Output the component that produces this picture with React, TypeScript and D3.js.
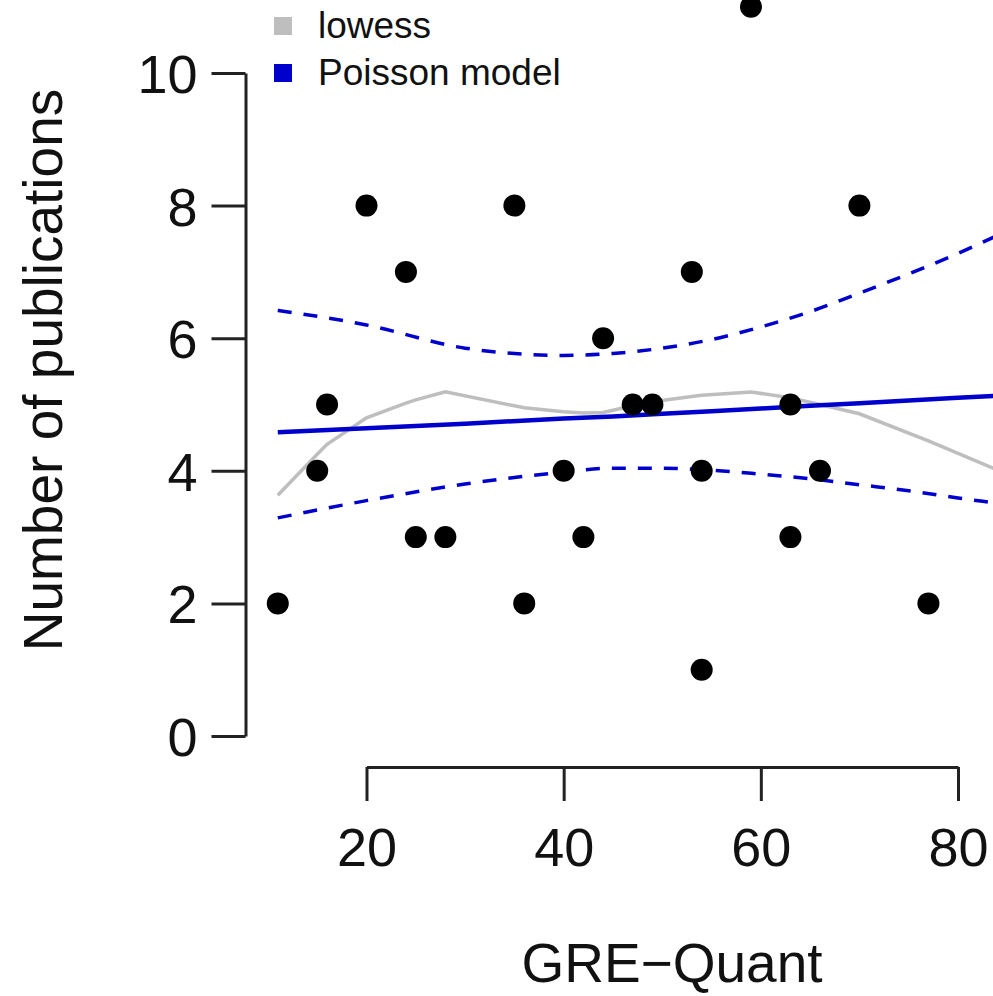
import { useRef, useEffect } from 'react';
import * as d3 from 'd3';

// observed data: GRE-Quant vs number of publications
const greQuant = [11, 15, 16, 20, 24, 25, 28, 35, 36, 40, 42, 44, 47, 49, 53, 54, 54, 59, 63, 63, 66, 70, 77];
const pubs = [2, 4, 5, 8, 7, 3, 3, 8, 2, 4, 3, 6, 5, 5, 7, 4, 1, 11, 5, 3, 4, 8, 2];

// lowess smooth (evaluated at the unique x values)
const lowessX = [11, 15, 16, 20, 24, 25, 28, 35, 36, 40, 42, 44, 47, 49, 53, 54, 59, 63, 66, 70, 77, 85];
const lowessY = [3.63, 4.25, 4.4, 4.8, 5.02, 5.07, 5.19, 4.98, 4.95, 4.89, 4.87, 4.88, 4.98, 5.04, 5.12, 5.14, 5.19, 5.1, 5.0, 4.86, 4.45, 3.95];

// Poisson model fit and confidence band
const fitX = [11, 20, 30, 40, 45, 50, 55, 60, 65, 70, 75, 80, 85, 90];
const fitY = [4.58, 4.64, 4.71, 4.79, 4.82, 4.86, 4.9, 4.94, 4.98, 5.02, 5.06, 5.1, 5.14, 5.18];
const upperY = [6.42, 6.2, 5.85, 5.74, 5.77, 5.85, 5.98, 6.17, 6.4, 6.68, 6.97, 7.28, 7.62, 7.98];
const lowerY = [3.29, 3.55, 3.8, 3.98, 4.04, 4.04, 4.01, 3.95, 3.88, 3.79, 3.7, 3.59, 3.49, 3.38];

const xTicks = [20, 40, 60, 80];
const yTicks = [0, 2, 4, 6, 8, 10];
const legendItems = [
  { label: 'lowess', color: '#bebebe' },
  { label: 'Poisson model', color: '#0000cd' },
];

export default function App() {
  const svgRef = useRef<SVGSVGElement>(null);

  useEffect(() => {
    if (!svgRef.current) return;
    const width = 993;
    const height = 996;
    const font = '"Liberation Sans", Arial, Helvetica, sans-serif';

    const svg = d3.select(svgRef.current);
    svg.selectAll('*').remove();
    svg.attr('width', width).attr('height', height);

    const x = d3.scaleLinear().domain([20, 80]).range([366.5, 958]);
    const y = d3.scaleLinear().domain([0, 10]).range([736, 73]);

    const axisColor = '#222';

    // Y axis (R style: detached, ticks to the left)
    svg.append('g')
      .attr('transform', 'translate(245.5,0)')
      .call(d3.axisLeft(y).tickValues(yTicks).tickSize(34).tickSizeOuter(0).tickPadding(14))
      .call(g => g.select('.domain').attr('stroke', axisColor).attr('stroke-width', 3))
      .call(g => g.selectAll('.tick line').attr('stroke', axisColor).attr('stroke-width', 3))
      .call(g => g.selectAll('.tick text')
        .attr('fill', '#111')
        .attr('font-family', font)
        .attr('font-size', 54)
        .attr('dy', '0.36em'));

    // X axis
    svg.append('g')
      .attr('transform', 'translate(0,767)')
      .call(d3.axisBottom(x).tickValues(xTicks).tickSize(34).tickSizeOuter(0).tickPadding(27))
      .call(g => g.select('.domain').attr('stroke', axisColor).attr('stroke-width', 3))
      .call(g => g.selectAll('.tick line').attr('stroke', axisColor).attr('stroke-width', 3))
      .call(g => g.selectAll('.tick text')
        .attr('fill', '#111')
        .attr('font-family', font)
        .attr('font-size', 54)
        .attr('dy', '0.71em'));

    // Axis titles
    svg.append('text')
      .attr('x', 672)
      .attr('y', 982)
      .attr('text-anchor', 'middle')
      .attr('font-family', font)
      .attr('font-size', 55)
      .attr('fill', '#111')
      .text('GRE\u2212Quant');

    svg.append('text')
      .attr('transform', 'translate(62,370) rotate(-90)')
      .attr('text-anchor', 'middle')
      .attr('font-family', font)
      .attr('font-size', 55)
      .attr('fill', '#111')
      .text('Number of publications');

    const line = d3.line<[number, number]>()
      .x(d => x(d[0]))
      .y(d => y(d[1]));

    // lowess
    svg.append('path')
      .attr('d', line(lowessX.map((v, i) => [v, lowessY[i]] as [number, number])))
      .attr('fill', 'none')
      .attr('stroke', '#bebebe')
      .attr('stroke-width', 3.5);

    // Poisson fit
    svg.append('path')
      .attr('d', line(fitX.map((v, i) => [v, fitY[i]] as [number, number])))
      .attr('fill', 'none')
      .attr('stroke', '#0000cd')
      .attr('stroke-width', 4.5);

    [upperY, lowerY].forEach(band => {
      svg.append('path')
        .attr('d', d3.line<[number, number]>().x(d => x(d[0])).y(d => y(d[1])).curve(d3.curveMonotoneX)(
          fitX.map((v, i) => [v, band[i]] as [number, number])))
        .attr('fill', 'none')
        .attr('stroke', '#0000cd')
        .attr('stroke-width', 3.5)
        .attr('stroke-dasharray', '14,12');
    });

    // Points
    svg.append('g')
      .selectAll('circle')
      .data(greQuant.map((v, i) => [v, pubs[i]]))
      .join('circle')
      .attr('cx', d => x(d[0]))
      .attr('cy', d => y(d[1]))
      .attr('r', 11)
      .attr('fill', '#000');

    // Legend
    const legend = svg.append('g');
    legendItems.forEach((item, i) => {
      const cy = 26 + i * 47;
      legend.append('rect')
        .attr('x', 274)
        .attr('y', cy - 9)
        .attr('width', 18)
        .attr('height', 18)
        .attr('fill', item.color);
      legend.append('text')
        .attr('x', 318)
        .attr('y', cy + 12)
        .attr('font-family', font)
        .attr('font-size', 37)
        .attr('fill', '#111')
        .text(item.label);
    });
  }, []);

  return (
    <svg
      ref={svgRef}
      style={{ position: 'absolute', left: 0, top: 0, display: 'block', background: '#fff' }}
    />
  );
}
